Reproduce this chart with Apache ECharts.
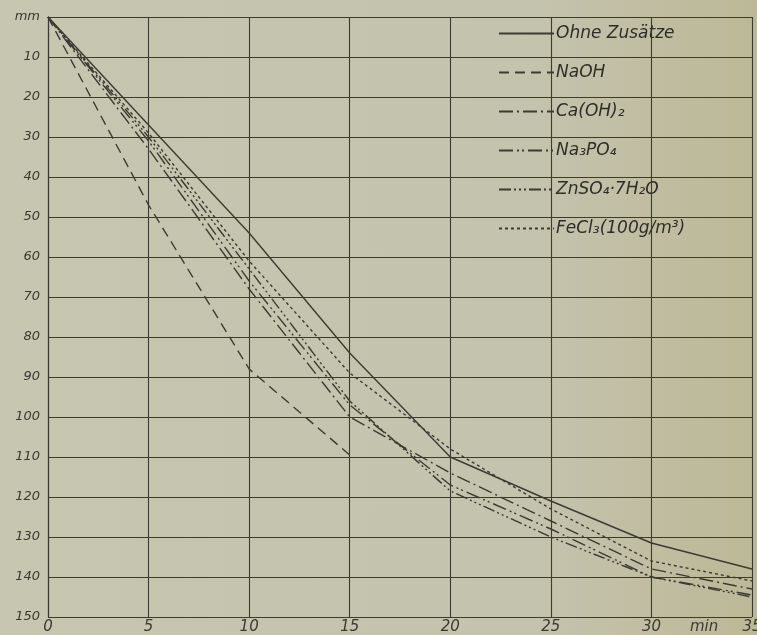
<!DOCTYPE html>
<html>
<head>
<meta charset="utf-8">
<script src="https://cdn.jsdelivr.net/npm/echarts@6/dist/echarts.min.js"></script>
<style>
html,body{margin:0;padding:0;overflow:hidden;width:757px;height:635px;}
body{background:linear-gradient(90deg,#c6c6b1 0%,#c4c3ad 70%,#bcb897 100%);}
#c{width:757px;height:635px;}
</style>
</head>
<body>
<div id="c"></div>
<script>
// time in minutes
const times = [0, 5, 10, 15, 20, 25, 30, 35];
const xTicks = [0, 5, 10, 15, 20, 25, 30, 35];
const yTicks = [0, 10, 20, 30, 40, 50, 60, 70, 80, 90, 100, 110, 120, 130, 140, 150];
// series values (mm)
const ohne   = [0, 27, 54, 84, 110, 121, 131.5, 138];
const naoh   = [0, 47, 88, 109.5];
const caoh2  = [0, 33, 68, 100, 114, 126, 138, 143];
const na3po4 = [0, 31, 66, 97, 117, 128, 140, 144.5];
const znso4  = [0, 30, 63, 96, 118.5, 130, 140, 145];
const fecl3  = [0, 29, 61, 89, 108, 123, 136, 141];
const names = ['Ohne Zusätze', 'NaOH', 'Ca(OH)₂', 'Na₃PO₄', 'ZnSO₄·7H₂O', 'FeCl₃(100g/m³)'];
const seriesVals = [ohne, naoh, caoh2, na3po4, znso4, fecl3];
const dashes = ['solid', [10, 6], [14, 4, 2, 4], [14, 4, 2, 3, 2, 4], [12, 3, 2, 3, 2, 3, 2, 3], [3, 3]];

const ink = '#3b3b33';
const font = 'DejaVu Sans';

const chart = echarts.init(document.getElementById('c'), null, {renderer: 'canvas', width: 757, height: 635});
chart.setOption({
  backgroundColor: 'transparent',
  animation: false,
  grid: {left: 48, right: 5, top: 17, bottom: 18, containLabel: false, outerBoundsMode: 'none'},
  legend: {
    orient: 'vertical',
    left: 493,
    top: 20,
    itemWidth: 55,
    itemHeight: 14,
    itemGap: 22,
    data: names,
    itemStyle: {opacity: 0},
    textStyle: {fontFamily: font, fontStyle: 'italic', fontSize: 17, color: '#2e2e28', padding: [0, 0, 0, -3]},
    inactiveColor: ink
  },
  xAxis: {
    type: 'value',
    min: 0, max: 35, interval: 5,
    axisLine: {show: true, lineStyle: {color: ink, width: 1.2}},
    axisTick: {show: false},
    splitLine: {show: true, lineStyle: {color: ink, width: 1.1}},
    axisLabel: {
      fontFamily: font, fontStyle: 'italic', fontSize: 15, color: '#3a3a32', margin: 3,
      formatter: v => xTicks.includes(v) ? String(v) : ''
    }
  },
  yAxis: {
    type: 'value',
    inverse: true,
    min: 0, max: 150, interval: 10,
    axisLine: {show: true, lineStyle: {color: ink, width: 1.2}},
    axisTick: {show: false},
    splitLine: {show: true, lineStyle: {color: ink, width: 1.1}},
    axisLabel: {
      fontFamily: font, fontStyle: 'italic', fontSize: 13, color: '#3a3a32', margin: 8,
      formatter: v => v === 0 ? 'mm' : (yTicks.includes(v) ? String(v) : '')
    }
  },
  graphic: [{
    type: 'text', left: 690, top: 620,
    style: {text: 'min', font: 'italic 15px "DejaVu Sans"', fill: '#3a3a32'}
  }],
  series: seriesVals.map((vals, i) => ({
    name: names[i],
    type: 'line',
    symbol: 'none',
    data: vals.map((v, k) => [times[k], v]),
    lineStyle: {color: ink, width: 1.4, type: dashes[i]},
    itemStyle: {color: ink}
  }))
});
</script>
</body>
</html>
